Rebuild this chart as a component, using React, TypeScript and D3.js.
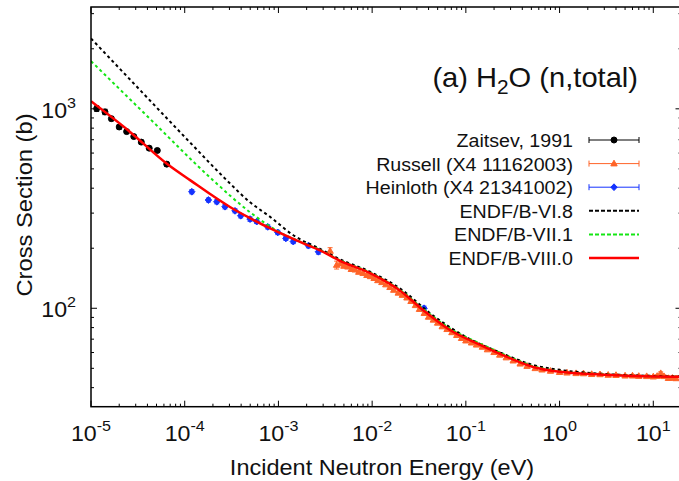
import React from "react";
import * as d3 from "d3";

const W = 679;
const H = 481;
const PLOT = { left: 91, top: 7, right: 681.5, bottom: 406.7 };

// axis ranges
const xDomain = [1e-5, 20];
const yDomain = [32.1, 3240];
const xTickExps = [-5, -4, -3, -2, -1, 0, 1];
const yTickExps = [2, 3];

// ENDF/B-VI.8
const endf6Energy = [1e-5, 2.61e-5, 1.14e-4, 2.8e-4, 4.98e-4, 8.1e-4, 1.43e-3, 2.78e-3, 4.54e-3, 9.5e-3, 1.99e-2, 0.0447, 0.102, 0.232, 0.521, 1.19, 2.7, 10, 20];
const endf6Sigma = [2254, 1402, 678, 439, 340, 288, 233, 198.5, 176, 152.5, 125.5, 92, 71.5, 60, 52, 48.6, 47.0, 45.8, 45.6];

// ENDF/B-VII.1
const endf7Energy = [1e-5, 4.26e-5, 2.0e-4, 4.98e-4, 1.04e-3, 1.7e-3, 2.78e-3, 4.54e-3, 9.5e-3, 1.99e-2, 3.49e-2, 6.77e-2, 0.142, 0.275, 0.521, 1.0, 2.7, 10, 20];
const endf7Sigma = [1735, 891, 439, 303, 240, 216, 196, 174, 151, 123.5, 99.5, 79.2, 66.5, 57.8, 51.3, 48.2, 46.7, 45.5, 45.3];

// ENDF/B-VIII.0
const endf8Energy = [1e-5, 2.61e-5, 6.4e-5, 1.14e-4, 3.04e-4, 4.98e-4, 8.1e-4, 1.7e-3, 2.78e-3, 4.54e-3, 9.5e-3, 1.99e-2, 3.49e-2, 6.77e-2, 0.142, 0.275, 0.521, 1.0, 2.7, 10, 20];
const endf8Sigma = [1091, 766, 532, 439, 322, 283, 252, 215, 195, 173, 150, 122.5, 98, 77.8, 65.5, 57.0, 50.8, 48.0, 46.6, 45.5, 45.3];

// Zaitsev, 1991
const zaitsevEnergy = [1.15e-5, 1.41e-5, 1.65e-5, 2.0e-5, 2.4e-5, 2.86e-5, 3.44e-5, 4.18e-5, 5.1e-5, 6.43e-5];
const zaitsevSigma = [1003, 965, 893, 811, 769, 726, 681, 635, 618, 528];
const zaitsevErr = [32, 30, 22, 20, 18, 16, 15, 14, 14, 12];

// Heinloth (X4 21341002)
const heinlothEnergy = [1.19e-4, 1.79e-4, 2.2e-4, 2.69e-4, 3.44e-4, 3.96e-4, 4.98e-4, 5.87e-4, 7.69e-4, 9.84e-4, 1.2e-3, 1.44e-3, 2.09e-3, 2.67e-3, 3.58e-2];
const heinlothSigma = [384, 349, 342, 323, 308, 291, 280, 272, 256, 240, 224, 216, 206, 192, 100];
const heinlothErr = [9, 8, 8, 8, 7, 7, 7, 6, 6, 6, 5, 5, 5, 5, 2.5];

// Russell (X4 11162003)
const russellEnergy = [3.56e-3, 4.18e-3, 4.6e-3, 5.0e-3, 5.5e-3, 6.0e-3, 6.6e-3, 7.2e-3, 8.0e-3, 8.8e-3, 9.6e-3, 0.0105, 0.0115, 0.0127, 0.014, 0.0155, 0.017, 0.019, 0.021, 0.0235, 0.026, 0.029, 0.032, 0.036, 0.04, 0.045, 0.05, 0.056, 0.063, 0.071, 0.08, 0.09, 0.1, 0.115, 0.13, 0.15, 0.17, 0.2, 0.23, 0.27, 0.32, 0.38, 0.45, 0.55, 0.65, 0.8, 1.0, 1.2, 1.5, 1.8, 2.2, 2.7, 3.3, 4.0, 5.0, 6.0, 7.0, 8.5, 10, 11, 12, 13, 14.5, 16, 17.5];
const russellSigma = [193.7, 164.8, 167.5, 163, 161.5, 157, 156, 152, 150, 146.5, 144.5, 141.5, 138, 135, 131.5, 127.5, 123.5, 119.5, 116.5, 113, 108.5, 103.5, 99, 94.5, 90.5, 87.5, 84.5, 81, 78.5, 75.7, 73.3, 70.8, 68.8, 67.2, 65.6, 64, 62.1, 60.2, 58.4, 56.6, 54.6, 52.7, 51.3, 50, 49.2, 48.5, 47.8, 47.5, 47.2, 47.1, 46.7, 46.6, 46.3, 46.2, 45.9, 45.9, 45.7, 45.6, 45.4, 45.7, 47.2, 45.6, 44.6, 44.7, 44.5];
const russellErr = [7.5, 7.5, 3, 3, 2.8, 2.6, 2.5, 2.4, 2.3, 2.2, 2.1, 2, 2, 1.9, 1.8, 1.8, 1.7, 1.6, 1.6, 1.5, 1.5, 1.4, 1.4, 1.3, 1.3, 1.2, 1.2, 1.1, 1.1, 1, 1, 1, 1, 0.9, 0.9, 0.9, 0.8, 0.8, 0.8, 0.8, 0.7, 0.7, 0.7, 0.7, 0.7, 0.6, 0.6, 0.6, 0.6, 0.6, 0.6, 0.6, 0.6, 0.6, 0.6, 0.6, 0.6, 0.6, 0.6, 0.7, 0.8, 0.7, 0.7, 0.7, 0.7];

const legendLabels = ["Zaitsev, 1991", "Russell (X4 11162003)", "Heinloth (X4 21341002)", "ENDF/B-VI.8", "ENDF/B-VII.1", "ENDF/B-VIII.0"];

const ORANGE = "#ff6428";
const BLUE = "#1432ff";
const GREEN = "#14e614";
const RED = "#ff0000";
const FONT = "'Liberation Sans', Arial, Helvetica, sans-serif";
const SX = 1.04;

const x = d3.scaleLog().domain(xDomain).range([PLOT.left, PLOT.right]);
const y = d3.scaleLog().domain(yDomain).range([PLOT.bottom, PLOT.top]);

const line = d3
  .line<[number, number]>()
  .x((d) => x(d[0]))
  .y((d) => y(d[1]))
  .curve(d3.curveMonotoneX);

function zip(a: number[], b: number[]): [number, number][] {
  return a.map((v, i) => [v, b[i]]);
}

function minorTicks(lo: number, hi: number) {
  const out: number[] = [];
  for (let e = Math.floor(Math.log10(lo)); e <= Math.ceil(Math.log10(hi)); e++) {
    for (let m = 2; m <= 9; m++) {
      const v = m * Math.pow(10, e);
      if (v > lo && v < hi) out.push(v);
    }
  }
  return out;
}

function Txt(props: { x: number; y: number; size: number; anchor?: string; rotate?: number; children: any }) {
  const { x: tx, y: ty, size, anchor, rotate, children } = props;
  const tr = `translate(${tx},${ty})` + (rotate ? ` rotate(${rotate})` : "") + ` scale(${SX},1)`;
  return (
    <text transform={tr} fontSize={size} textAnchor={anchor || "start"} fill="#111">
      {children}
    </text>
  );
}

function marker(px: number, py: number, shape: string, color: string) {
  if (shape === "circle") return <circle cx={px} cy={py} r={3} fill={color} />;
  if (shape === "triangle")
    return <path d={`M${px},${py - 3.4}L${px + 3.2},${py + 2.3}L${px - 3.2},${py + 2.3}Z`} fill={color} />;
  return <path d={`M${px},${py - 3.4}L${px + 3.2},${py}L${px},${py + 3.4}L${px - 3.2},${py}Z`} fill={color} />;
}

function ErrPoints(props: { E: number[]; S: number[]; err: number[]; color: string; shape: string }) {
  const { E, S, err, color, shape } = props;
  return (
    <g>
      {E.map((e, i) => {
        const px = x(e);
        const py = y(S[i]);
        const y1 = y(S[i] + err[i]);
        const y2 = y(S[i] - err[i]);
        return (
          <g key={i} stroke={color} strokeWidth={1}>
            <line x1={px} x2={px} y1={y1} y2={y2} />
            <line x1={px - 2.5} x2={px + 2.5} y1={y1} y2={y1} />
            <line x1={px - 2.5} x2={px + 2.5} y1={y2} y2={y2} />
            {marker(px, py, shape, color)}
          </g>
        );
      })}
    </g>
  );
}

function LegendErr(props: { yy: number; color: string; shape: string }) {
  const { yy, color, shape } = props;
  const x1 = 589;
  const x2 = 639;
  const mx = (x1 + x2) / 2;
  return (
    <g stroke={color} strokeWidth={1}>
      <line x1={x1} x2={x2} y1={yy} y2={yy} />
      <line x1={x1} x2={x1} y1={yy - 3} y2={yy + 3} />
      <line x1={x2} x2={x2} y1={yy - 3} y2={yy + 3} />
      {marker(mx, yy, shape, color)}
    </g>
  );
}

export default function App() {
  const xMinor = minorTicks(xDomain[0], xDomain[1]);
  const yMinor = minorTicks(yDomain[0], yDomain[1]);
  const legendY = [140, 163.6, 187.2, 210.8, 234.4, 258];

  return (
    <svg
      width={W}
      height={H}
      style={{ position: "absolute", left: 0, top: 0, background: "#fff" }}
      fontFamily={FONT}
    >
      <defs>
        <clipPath id="plotClip">
          <rect x={PLOT.left} y={PLOT.top} width={PLOT.right - PLOT.left} height={PLOT.bottom - PLOT.top} />
        </clipPath>
      </defs>

      {/* ticks */}
      <g stroke="#000" strokeWidth={1}>
        {xTickExps.map((e) => {
          const px = x(Math.pow(10, e));
          return (
            <g key={"xt" + e}>
              <line x1={px} x2={px} y1={PLOT.bottom} y2={PLOT.bottom - 6} />
              <line x1={px} x2={px} y1={PLOT.top} y2={PLOT.top + 6} />
            </g>
          );
        })}
        {xMinor.map((v, i) => (
          <g key={"xm" + i}>
            <line x1={x(v)} x2={x(v)} y1={PLOT.bottom} y2={PLOT.bottom - 3} />
            <line x1={x(v)} x2={x(v)} y1={PLOT.top} y2={PLOT.top + 3} />
          </g>
        ))}
        {yTickExps.map((e) => {
          const py = y(Math.pow(10, e));
          return (
            <g key={"yt" + e}>
              <line x1={PLOT.left} x2={PLOT.left + 6} y1={py} y2={py} />
              <line x1={PLOT.right} x2={PLOT.right - 6} y1={py} y2={py} />
            </g>
          );
        })}
        {yMinor.map((v, i) => (
          <g key={"ym" + i}>
            <line x1={PLOT.left} x2={PLOT.left + 3} y1={y(v)} y2={y(v)} />
            <line x1={PLOT.right} x2={PLOT.right - 3} y1={y(v)} y2={y(v)} />
          </g>
        ))}
      </g>

      {/* tick labels */}
      {xTickExps.map((e) => (
        <Txt key={"xl" + e} x={x(Math.pow(10, e))} y={441} size={22.3} anchor="middle">
          <tspan>10</tspan>
          <tspan fontSize={15.5} dy={-10}>
            {String(e)}
          </tspan>
        </Txt>
      ))}
      {yTickExps.map((e) => (
        <Txt key={"yl" + e} x={76} y={y(Math.pow(10, e)) + 9} size={22.3} anchor="end">
          <tspan>10</tspan>
          <tspan fontSize={15.5} dy={-10}>
            {String(e)}
          </tspan>
        </Txt>
      ))}

      {/* data */}
      <g clipPath="url(#plotClip)">
        <ErrPoints E={zaitsevEnergy} S={zaitsevSigma} err={zaitsevErr} color="#000" shape="circle" />
        <ErrPoints E={russellEnergy} S={russellSigma} err={russellErr} color={ORANGE} shape="triangle" />
        <ErrPoints E={heinlothEnergy} S={heinlothSigma} err={heinlothErr} color={BLUE} shape="diamond" />
        <path d={line(zip(endf6Energy, endf6Sigma)) || ""} fill="none" stroke="#000" strokeWidth={2} strokeDasharray="3 3" />
        <path d={line(zip(endf7Energy, endf7Sigma)) || ""} fill="none" stroke={GREEN} strokeWidth={2} strokeDasharray="3 3" />
        <path d={line(zip(endf8Energy, endf8Sigma)) || ""} fill="none" stroke={RED} strokeWidth={2.5} />
      </g>

      {/* frame */}
      <rect
        x={PLOT.left}
        y={PLOT.top}
        width={PLOT.right - PLOT.left}
        height={PLOT.bottom - PLOT.top}
        fill="none"
        stroke="#000"
        strokeWidth={1.5}
      />

      {/* title */}
      <Txt x={638} y={87} size={28} anchor="end">
        <tspan>(a) H</tspan>
        <tspan fontSize={20} dy={7}>2</tspan>
        <tspan dy={-7}>O (n,total)</tspan>
      </Txt>

      {/* legend */}
      {legendLabels.map((l, i) => (
        <Txt key={l} x={573} y={legendY[i] + 7} size={18.9} anchor="end">
          {l}
        </Txt>
      ))}
      <LegendErr yy={legendY[0]} color="#000" shape="circle" />
      <LegendErr yy={legendY[1]} color={ORANGE} shape="triangle" />
      <LegendErr yy={legendY[2]} color={BLUE} shape="diamond" />
      <line x1={589} x2={639} y1={legendY[3]} y2={legendY[3]} stroke="#000" strokeWidth={2} strokeDasharray="4 2" />
      <line x1={589} x2={639} y1={legendY[4]} y2={legendY[4]} stroke={GREEN} strokeWidth={2} strokeDasharray="4 2" />
      <line x1={589} x2={639} y1={legendY[5]} y2={legendY[5]} stroke={RED} strokeWidth={2.5} />

      {/* axis titles */}
      <Txt x={382} y={475} size={22.6} anchor="middle">
        Incident Neutron Energy (eV)
      </Txt>
      <Txt x={32} y={205} size={22.8} anchor="middle" rotate={-90}>
        Cross Section (b)
      </Txt>
    </svg>
  );
}
